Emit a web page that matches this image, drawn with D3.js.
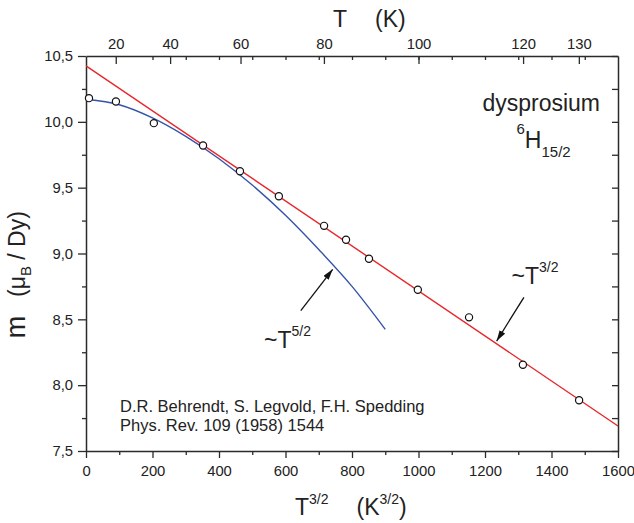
<!DOCTYPE html>
<html><head><meta charset="utf-8">
<script src="https://cdn.jsdelivr.net/npm/d3@7"></script>
<style>
body{margin:0;background:#fff;}
text{font-family:"Liberation Sans",Arial,Helvetica,sans-serif;fill:#222;}
</style></head>
<body><svg id="c" width="634" height="523"></svg>
<script>
// ---- data ----
const pointsX = [9, 90, 204, 352, 463, 580, 716, 782, 851, 998, 1152, 1314, 1483];
const pointsM = [10.18, 10.155, 9.99, 9.82, 9.625, 9.435, 9.21, 9.105, 8.96, 8.725, 8.515, 8.155, 7.885];
const fitLineX = [0, 1600];
const fitLineM = [10.425, 7.69];
const curveX = [0, 100, 200, 300, 400, 500, 600, 700, 800, 900];
const curveM = [10.172, 10.13, 10.03, 9.89, 9.72, 9.52, 9.29, 9.03, 8.75, 8.424];
const xMajorTicks = [0, 200, 400, 600, 800, 1000, 1200, 1400, 1600];
const xMinorTicks = [100, 300, 500, 700, 900, 1100, 1300, 1500];
const topMinorTicks = [200, 300, 400, 500, 600, 700, 800, 900, 1000, 1100, 1200, 1300, 1400, 1500];
const yMajorTicks = [7.5, 8.0, 8.5, 9.0, 9.5, 10.0, 10.5];
const yMinorTicks = [7.75, 8.25, 8.75, 9.25, 9.75, 10.25];
const tempTicks = [20, 40, 60, 80, 100, 120, 130];

const svg = d3.select("#c");
const L = 86, R = 618, T = 56, B = 451;
const x = d3.scaleLinear().domain([0, 1600]).range([L, R]);
const y = d3.scaleLinear().domain([7.5, 10.5]).range([B, T]);
const xT = d3.scalePow().exponent(1.5).domain([0, Math.pow(1600, 2/3)]).range([L, R]);
const fmt = d => d3.format(".1f")(d).replace(".", ",");
const axisColor = "#2b2b2b";
const tickFont = "14.8px";

function styleAxis(g){
  g.selectAll("path.domain").attr("stroke", axisColor).attr("stroke-width", 1.5);
  g.selectAll(".tick line").attr("stroke", axisColor).attr("stroke-width", 1.3);
  g.selectAll(".tick text").attr("fill", "#222").style("font-family", '"Liberation Sans",Arial,sans-serif');
}

// bottom
svg.append("g").attr("transform", `translate(0,${B})`)
  .call(d3.axisBottom(x).tickValues(xMajorTicks).tickSize(7).tickSizeOuter(0).tickPadding(7).tickFormat(d3.format("d")))
  .call(g => g.selectAll("text").style("font-size", tickFont))
  .call(styleAxis);
svg.append("g").attr("transform", `translate(0,${B})`)
  .call(d3.axisBottom(x).tickValues(xMinorTicks).tickSize(4).tickFormat(""))
  .call(g => g.select(".domain").remove()).call(styleAxis);
// left
svg.append("g").attr("transform", `translate(${L},0)`)
  .call(d3.axisLeft(y).tickValues(yMajorTicks).tickSize(8).tickSizeOuter(0).tickPadding(5).tickFormat(fmt))
  .call(g => g.selectAll("text").style("font-size", tickFont))
  .call(styleAxis);
svg.append("g").attr("transform", `translate(${L},0)`)
  .call(d3.axisLeft(y).tickValues(yMinorTicks).tickSize(4).tickFormat(""))
  .call(g => g.select(".domain").remove()).call(styleAxis);
// right (inward)
svg.append("g").attr("transform", `translate(${R},0)`)
  .call(d3.axisRight(y).tickValues(yMajorTicks.concat(yMinorTicks)).tickSize(-6).tickSizeOuter(0).tickFormat(""))
  .call(styleAxis);
// top: temperature axis (inward)
svg.append("g").attr("transform", `translate(0,${T})`)
  .call(d3.axisTop(xT).tickValues(tempTicks).tickSize(-8).tickSizeOuter(0).tickPadding(7).tickFormat(d3.format("d")))
  .call(g => g.selectAll("text").style("font-size", tickFont))
  .call(styleAxis);
svg.append("g").attr("transform", `translate(0,${T})`)
  .call(d3.axisTop(x).tickValues(topMinorTicks).tickSize(-4).tickFormat(""))
  .call(g => g.select(".domain").remove()).call(styleAxis);

// clip
svg.append("clipPath").attr("id", "clip").append("rect").attr("x", L).attr("y", T).attr("width", R - L).attr("height", B - T);

const line = d3.line().x(d => x(d[0])).y(d => y(d[1]));
svg.append("path").attr("clip-path", "url(#clip)")
  .attr("d", line(fitLineX.map((v, i) => [v, fitLineM[i]])))
  .attr("fill", "none").attr("stroke", "#e8262b").attr("stroke-width", 1.4);
svg.append("path")
  .attr("d", line.curve(d3.curveMonotoneX)(curveX.map((v, i) => [v, curveM[i]])))
  .attr("fill", "none").attr("stroke", "#3553aa").attr("stroke-width", 1.4);

svg.append("g").selectAll("circle").data(pointsX.map((v, i) => [v, pointsM[i]])).join("circle")
  .attr("cx", d => x(d[0])).attr("cy", d => y(d[1])).attr("r", 3.6)
  .attr("fill", "#fff").attr("stroke", "#111").attr("stroke-width", 1.2);

// arrows
const defs = svg.append("defs");
defs.append("marker").attr("id", "ah").attr("viewBox", "0 0 10 6").attr("refX", 10).attr("refY", 3)
  .attr("markerWidth", 11).attr("markerHeight", 6.5).attr("markerUnits", "userSpaceOnUse").attr("orient", "auto")
  .append("path").attr("d", "M0,0L10,3L0,6Z").attr("fill", "#111");
const arrows = [[[646, 8.566], [742, 8.88]], [[1317, 8.667], [1235, 8.335]]];
svg.selectAll("line.arr").data(arrows).join("line").attr("class", "arr")
  .attr("x1", d => x(d[0][0])).attr("y1", d => y(d[0][1]))
  .attr("x2", d => x(d[1][0])).attr("y2", d => y(d[1][1]))
  .attr("stroke", "#111").attr("stroke-width", 1.3).attr("marker-end", "url(#ah)");

// texts
function supText(xp, yp, main, sup, size, supSize, rise){
  const t = svg.append("text").attr("x", xp).attr("y", yp).style("font-size", size + "px");
  t.append("tspan").text(main);
  t.append("tspan").attr("dy", -rise).style("font-size", supSize + "px").text(sup);
  return t;
}
supText(264, 347.5, "~T", "5/2", 23, 14, 12);
supText(511.5, 284, "~T", "3/2", 23, 14, 12);

svg.append("text").attr("x", 600).attr("y", 111).attr("text-anchor", "end").style("font-size", "23px").text("dysprosium");
const h = svg.append("text").attr("x", 516.5).attr("y", 147.7).style("font-size", "23px");
h.append("tspan").attr("dy", -14).style("font-size", "15px").text("6");
h.append("tspan").attr("dy", 14).text("H");
h.append("tspan").attr("dy", 9.5).style("font-size", "15px").text("15/2");

svg.append("text").attr("x", 120).attr("y", 411.5).style("font-size", "16.5px").text("D.R. Behrendt, S. Legvold, F.H. Spedding");
svg.append("text").attr("x", 120).attr("y", 430.5).style("font-size", "16.5px").text("Phys. Rev. 109 (1958) 1544");

// top title
svg.append("text").attr("x", 333).attr("y", 27).style("font-size", "23px").text("T");
svg.append("text").attr("x", 375).attr("y", 27).style("font-size", "23px").text("(K)");

// bottom title
const bt = svg.append("text").attr("x", 295).attr("y", 515).style("font-size", "23px");
bt.append("tspan").text("T");
bt.append("tspan").attr("dy", -11).style("font-size", "14px").text("3/2");
const bt2 = svg.append("text").attr("x", 356.5).attr("y", 515).style("font-size", "23px");
bt2.append("tspan").text("(K");
bt2.append("tspan").attr("dy", -11).style("font-size", "14px").text("3/2");
bt2.append("tspan").attr("dy", 11).text(")");

// y title
svg.append("text").attr("transform", "translate(25,327) rotate(-90)").attr("text-anchor", "middle")
  .style("font-size", "27px").text("m");
const yt = svg.append("text").attr("transform", "translate(25,297) rotate(-90)").attr("text-anchor", "start")
  .style("font-size", "23px");
yt.append("tspan").text("(μ");
yt.append("tspan").attr("dy", 6).style("font-size", "15px").text("B");
yt.append("tspan").attr("dy", -6).text(" / Dy)");
</script></body></html>
